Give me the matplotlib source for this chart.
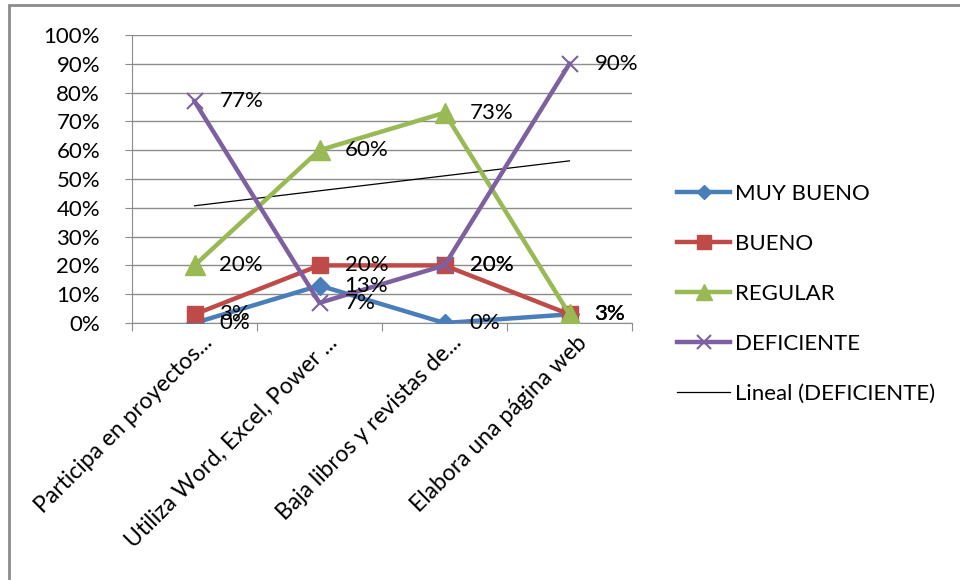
import numpy as np
import matplotlib.pyplot as plt
import matplotlib.transforms as mtransforms
from matplotlib.patches import Rectangle

plt.rcParams['font.family'] = ['Lato', 'DejaVu Sans']

categorias = ["Participa en proyectos...", "Utiliza Word, Excel, Power ...",
              "Baja libros y revistas de...", "Elabora una página web"]
muy_bueno = [0, 13, 0, 3]
bueno = [3, 20, 20, 3]
regular = [20, 60, 73, 3]
deficiente = [77, 7, 20, 90]

x = np.arange(1, len(categorias) + 1)
fs = 16

fig = plt.figure(figsize=(9.6, 5.8), dpi=100)
ax = fig.add_axes([132 / 960, 1 - 323 / 580, 500 / 960, 288 / 580])

# marco del grafico
fig.patches.append(Rectangle((9 / 960, -0.1), 1.2, 1 - 5 / 580 + 0.1,
                             transform=fig.transFigure, fill=False,
                             edgecolor='#8c8c8c', linewidth=2))

series = [
    ("MUY BUENO", muy_bueno, '#4A7EBB', 'D', 9),
    ("BUENO", bueno, '#BE4B48', 's', 12),
    ("REGULAR", regular, '#98B954', '^', 14),
    ("DEFICIENTE", deficiente, '#7D60A0', 'x', 12),
]
for nombre, vals, color, mk, ms in series:
    if mk == 'x':
        ax.plot(x, vals, color=color, lw=3.2, marker=mk, ms=ms, mew=1.5,
                label=nombre, zorder=3)
    else:
        ax.plot(x, vals, color=color, lw=3.2, marker=mk, ms=ms, mec=color,
                label=nombre, zorder=3)
    for xi, v in zip(x, vals):
        ax.annotate(f"{v}%", (xi, v), xytext=(18, 0), textcoords='offset points',
                    ha='left', va='center', fontsize=fs, color='black', zorder=4)

# linea de tendencia
m, b = np.polyfit(x, deficiente, 1)
ax.plot(x, m * x + b, color='black', lw=0.9, label="Lineal (DEFICIENTE)", zorder=2)

ax.set_xlim(0.5, 4.5)
ax.set_ylim(0, 100)
ax.set_yticks(np.arange(0, 101, 10))
ax.set_yticklabels([f"{t}%" for t in range(0, 101, 10)], fontsize=fs)
ax.yaxis.grid(True, color='#8c8c8c', lw=1)
ax.set_axisbelow(True)
for s in ['top', 'right']:
    ax.spines[s].set_visible(False)
ax.spines['left'].set_color('#8c8c8c')
ax.spines['bottom'].set_color('#8c8c8c')
ax.tick_params(axis='y', length=5, color='#8c8c8c', pad=18, direction='out')

ax.set_xticks(np.arange(0.5, 5, 1), minor=False)
ax.set_xticklabels([])
ax.tick_params(axis='x', length=6, color='#8c8c8c', direction='out')
offset = mtransforms.ScaledTranslation(14 / 100, -16 / 100, fig.dpi_scale_trans)
for xi, cat in zip(x, categorias):
    ax.text(xi, 0, cat, transform=ax.get_xaxis_transform() + offset,
            rotation=45, rotation_mode='anchor', ha='right', va='center',
            fontsize=fs + 0.5)

ax.legend(loc='center left', bbox_to_anchor=(668 / 960, 1 - 294 / 580),
          bbox_transform=fig.transFigure, frameon=False, fontsize=fs,
          handlelength=2.4, handletextpad=0.2, labelspacing=1.35,
          borderaxespad=0, markerscale=0.8)

fig.savefig("out.png", dpi=100)
